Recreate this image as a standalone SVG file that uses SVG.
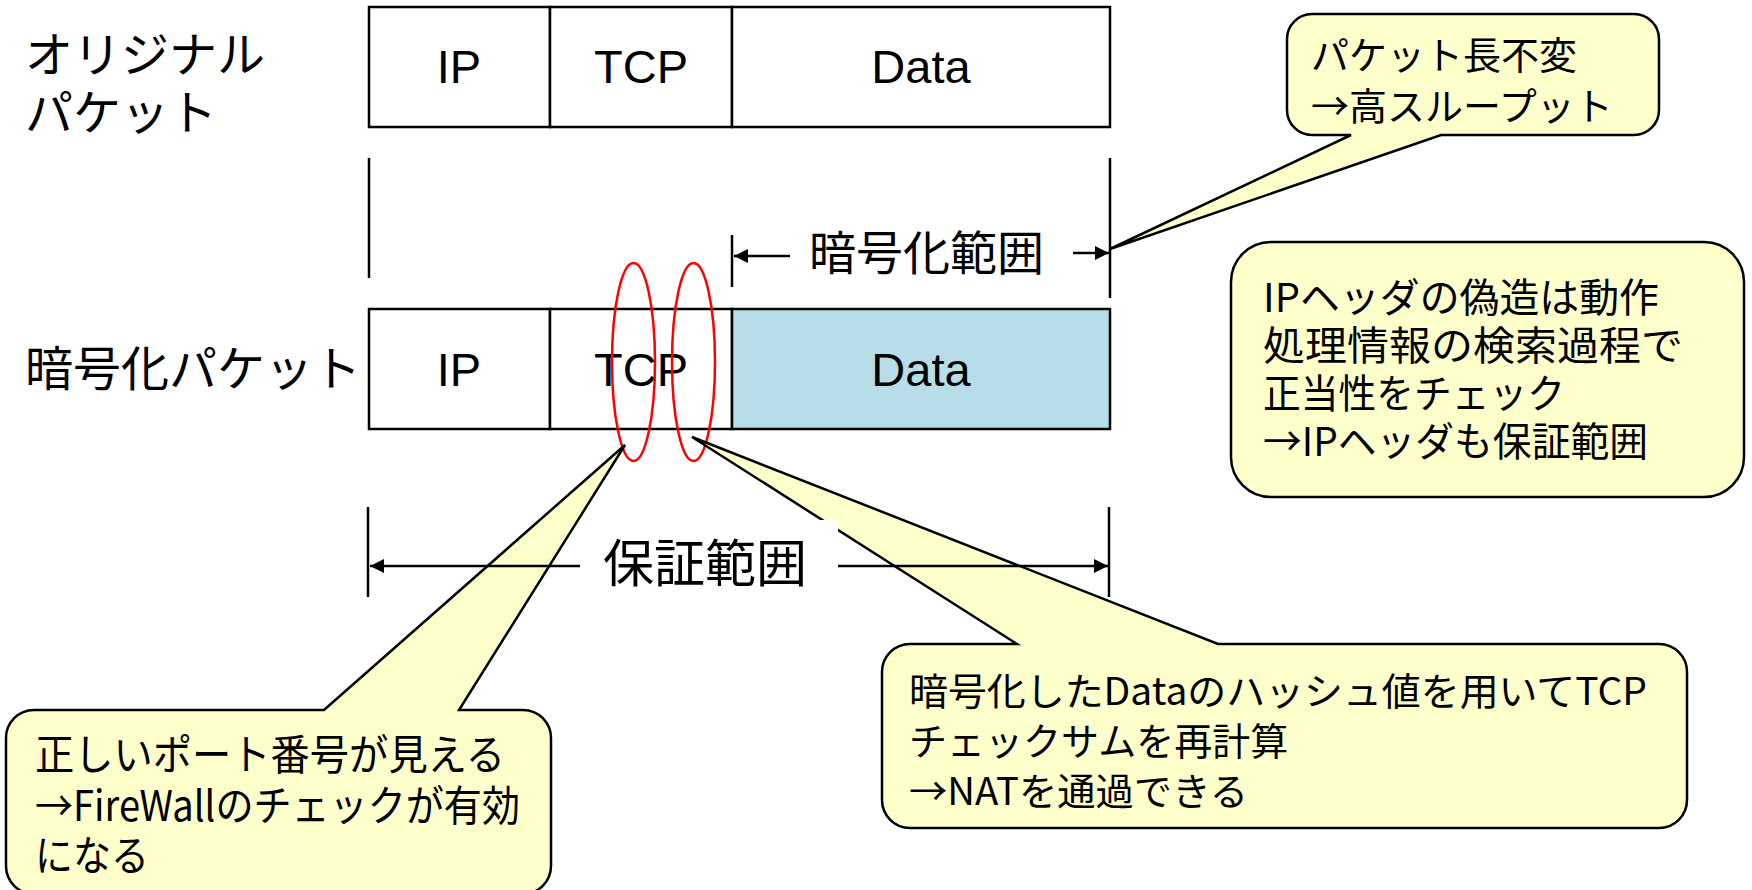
<svg xmlns="http://www.w3.org/2000/svg" width="1752" height="890" viewBox="0 0 1752 890">
<defs>
<style>
.cell{fill:#ffffff;stroke:#000;stroke-width:2.5}
.enc{fill:#b7dde8;stroke:#000;stroke-width:2.5}
.lbl{font-family:"Noto Sans CJK JP","Noto Sans CJK SC",sans-serif;fill:#000}
.cap{font-family:"Liberation Sans",Arial,sans-serif;font-size:47px;fill:#000;text-anchor:middle}
.co{fill:#ffffcc;stroke:#000;stroke-width:2.5;stroke-linejoin:miter}
.ln{stroke:#000;stroke-width:2.5;fill:none}
.red{fill:none;stroke:#ff0000;stroke-width:2.5}
</style>
<marker id="ah" markerUnits="userSpaceOnUse" markerWidth="16" markerHeight="16" refX="14" refY="7" orient="auto">
<path d="M0,0 L14,7 L0,14 z" fill="#000"/>
</marker>
</defs>
<rect width="1752" height="890" fill="#fff"/>

<g id="label-original">
<text class="lbl" x="25" y="72" font-size="48">オリジナル</text>
<text class="lbl" x="25" y="130" font-size="48">パケット</text>
</g>
<g id="label-encrypted">
<text class="lbl" x="25" y="386" font-size="48">暗号化パケット</text>
</g>

<g id="original-packet">
<rect class="cell" x="369" y="7" width="181" height="120"/>
<rect class="cell" x="550" y="7" width="182" height="120"/>
<rect class="cell" x="732" y="7" width="378" height="120"/>
<text class="cap" x="459" y="83">IP</text>
<text class="cap" x="641" y="83">TCP</text>
<text class="cap" x="921" y="83">Data</text>
</g>

<g id="encrypted-packet">
<rect class="cell" x="369" y="309" width="181" height="120"/>
<rect class="cell" x="550" y="309" width="182" height="120"/>
<rect class="enc" x="732" y="309" width="378" height="120"/>
<text class="cap" x="459" y="386">IP</text>
<text class="cap" x="641" y="386">TCP</text>
<text class="cap" x="921" y="386">Data</text>
</g>

<g id="highlight-ellipses">
<ellipse class="red" cx="633.5" cy="362" rx="21.5" ry="99"/>
<ellipse class="red" cx="693.5" cy="362" rx="21.5" ry="99"/>
</g>

<g id="callout-throughput">
<path class="co" d="M1312,14 H1634 A25,25 0 0 1 1659,39 V110 A25,25 0 0 1 1634,135 H1441 L1110,249 L1351,135 H1312 A25,25 0 0 1 1287,110 V39 A25,25 0 0 1 1312,14 Z"/>
<text class="lbl" x="1311" y="69" font-size="38">パケット長不変</text>
<text class="lbl" x="1311" y="120" font-size="38">→高スループット</text>
</g>

<g id="callout-ipheader">
<rect class="co" x="1231" y="242" width="513" height="255" rx="40" ry="40"/>
<text class="lbl" x="1263" y="312" font-size="40" textLength="396" lengthAdjust="spacingAndGlyphs">IPヘッダの偽造は動作</text>
<text class="lbl" x="1263" y="360" font-size="40" textLength="420" lengthAdjust="spacingAndGlyphs">処理情報の検索過程で</text>
<text class="lbl" x="1263" y="408" font-size="40" textLength="302" lengthAdjust="spacingAndGlyphs">正当性をチェック</text>
<text class="lbl" x="1263" y="456" font-size="40" textLength="385" lengthAdjust="spacingAndGlyphs">→IPヘッダも保証範囲</text>
</g>

<g id="callout-port">
<path class="co" d="M34,710 H324 L625,445 L459,710 H523 A28,28 0 0 1 551,738 V866 A28,28 0 0 1 523,894 H34 A28,28 0 0 1 6,866 V738 A28,28 0 0 1 34,710 Z"/>
<text class="lbl" x="35" y="770" font-size="42" textLength="470" lengthAdjust="spacingAndGlyphs">正しいポート番号が見える</text>
<text class="lbl" x="35" y="821" font-size="42" textLength="485" lengthAdjust="spacingAndGlyphs">→FireWallのチェックが有効</text>
<text class="lbl" x="35" y="871" font-size="42" textLength="114" lengthAdjust="spacingAndGlyphs">になる</text>
</g>

<g id="callout-nat">
<path class="co" d="M910,644 H1017 L692,437 L1218,644 H1659 A28,28 0 0 1 1687,672 V800 A28,28 0 0 1 1659,828 H910 A28,28 0 0 1 882,800 V672 A28,28 0 0 1 910,644 Z"/>
<text class="lbl" x="909" y="705" font-size="38" textLength="738" lengthAdjust="spacingAndGlyphs">暗号化したDataのハッシュ値を用いてTCP</text>
<text class="lbl" x="909" y="755" font-size="38">チェックサムを再計算</text>
<text class="lbl" x="909" y="805" font-size="38" textLength="339" lengthAdjust="spacingAndGlyphs">→NATを通過できる</text>
</g>

<g id="connectors">
<line class="ln" x1="369" y1="158" x2="369" y2="278"/>
<line class="ln" x1="1110" y1="158" x2="1110" y2="298"/>
<line class="ln" x1="732" y1="235" x2="732" y2="287"/>
<line class="ln" x1="790" y1="256" x2="734" y2="256" marker-end="url(#ah)"/>
<line class="ln" x1="1073" y1="253" x2="1109" y2="253" marker-end="url(#ah)"/>
<rect x="583" y="520" width="255" height="80" fill="#fff"/>
<line class="ln" x1="368" y1="507" x2="368" y2="597"/>
<line class="ln" x1="1109" y1="507" x2="1109" y2="597"/>
<line class="ln" x1="580" y1="566" x2="370" y2="566" marker-end="url(#ah)"/>
<line class="ln" x1="838" y1="566" x2="1108" y2="566" marker-end="url(#ah)"/>
</g>

<g id="range-labels">
<text class="lbl" x="809" y="270" font-size="47">暗号化範囲</text>
<text class="lbl" x="603" y="582" font-size="51">保証範囲</text>
</g>
</svg>
